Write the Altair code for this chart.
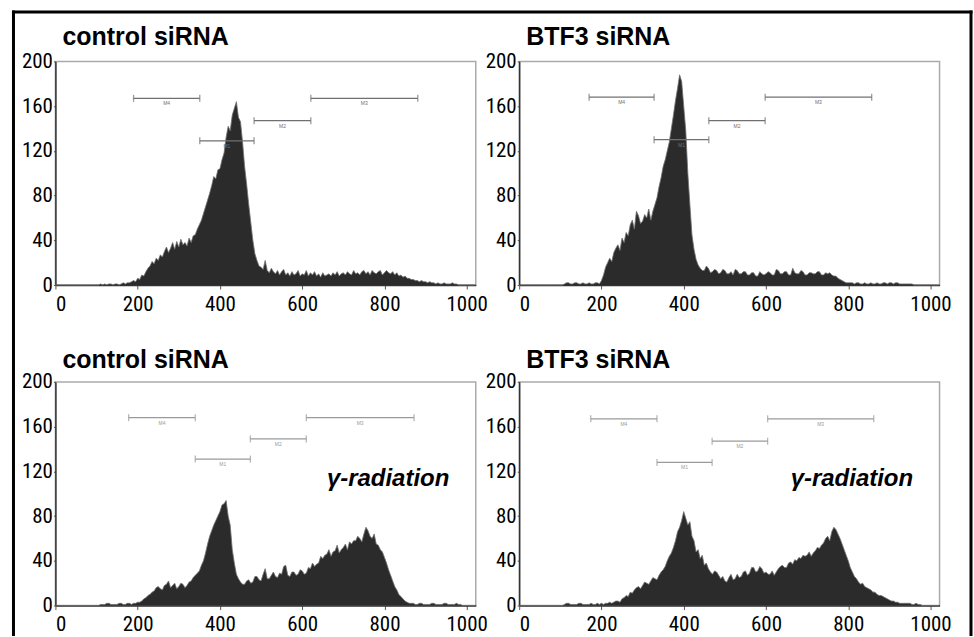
import altair as alt
import pandas as pd

# channel (bin start) of each histogram count, 5-channel bins from 0 to 1020
channels = list(range(0, 1025, 5))

control_siRNA = [
    0, 0, 0, 0, 0, 0, 0, 0, 0, 0, 0, 0, 0, 0, 0, 0, 0, 0, 0, 0,
    0, 0, 1, 0, 1, 0, 1, 1, 0, 1, 1, 0, 1, 2, 1, 2, 2, 3, 4, 3,
    6, 5, 9, 8, 12, 15, 17, 21, 19, 24, 22, 27, 25, 30, 34, 29, 33, 38, 32, 39,
    34, 41, 36, 38, 35, 42, 38, 44, 45, 50, 54, 58, 64, 70, 76, 82, 89, 97, 95, 103,
    104, 112, 118, 132, 142, 138, 152, 158, 164, 150, 146, 128, 106, 90, 72, 56, 40, 28, 22, 17,
    16, 14, 22, 13, 11, 15, 12, 10, 13, 9, 12, 14, 9, 11, 8, 12, 9, 10, 13, 8,
    10, 9, 13, 8, 11, 9, 12, 8, 10, 7, 11, 8, 9, 10, 8, 11, 9, 12, 8, 10,
    11, 9, 12, 10, 9, 13, 10, 11, 9, 12, 13, 10, 12, 9, 13, 11, 10, 12, 13, 9,
    11, 13, 11, 10, 12, 9, 11, 8, 9, 7, 8, 6, 6, 5, 5, 4, 4, 3, 4, 3,
    3, 2, 3, 2, 2, 1, 2, 1, 1, 2, 1, 1, 1, 2, 1, 1, 0, 0, 0, 0,
    0, 0, 0, 0, 0]

btf3_siRNA = [
    0, 0, 0, 0, 0, 0, 0, 0, 0, 0, 0, 0, 0, 0, 0, 0, 0, 0, 0, 0,
    0, 0, 1, 2, 2, 1, 1, 2, 2, 1, 1, 2, 1, 1, 2, 1, 1, 2, 2, 1,
    4, 9, 16, 20, 24, 21, 29, 33, 36, 31, 42, 38, 47, 44, 54, 58, 50, 66, 62, 55,
    57, 63, 60, 68, 58, 66, 72, 78, 88, 96, 106, 112, 120, 128, 140, 152, 165, 176, 188, 182,
    160, 138, 100, 72, 45, 32, 23, 18, 15, 13, 13, 17, 15, 11, 12, 14, 13, 10, 11, 14,
    13, 10, 10, 12, 9, 14, 13, 10, 10, 12, 12, 9, 9, 11, 11, 8, 8, 12, 10, 9,
    10, 12, 11, 9, 9, 14, 13, 10, 10, 12, 12, 9, 9, 15, 11, 10, 10, 13, 12, 9,
    9, 11, 11, 10, 10, 12, 12, 9, 9, 11, 10, 11, 9, 8, 8, 6, 5, 4, 3, 2,
    2, 2, 2, 1, 2, 2, 1, 1, 2, 1, 1, 2, 1, 1, 2, 1, 1, 2, 2, 1,
    2, 2, 1, 2, 2, 1, 1, 1, 1, 1, 1, 1, 0, 0, 0, 0, 0, 0, 0, 0,
    0, 0, 0, 0, 0]

control_siRNA_irr = [
    0, 0, 0, 0, 0, 0, 0, 0, 0, 0, 0, 0, 0, 0, 0, 0, 0, 0, 0, 0,
    0, 0, 1, 1, 1, 2, 2, 1, 1, 1, 1, 2, 2, 1, 1, 2, 2, 1, 2, 2,
    3, 3, 4, 6, 7, 9, 10, 12, 13, 16, 17, 15, 14, 18, 19, 22, 16, 18, 20, 15,
    17, 20, 19, 16, 18, 21, 22, 25, 27, 29, 31, 36, 40, 47, 55, 62, 67, 72, 76, 80,
    84, 90, 91, 94, 80, 72, 50, 38, 28, 24, 21, 19, 19, 22, 23, 20, 21, 26, 26, 23,
    22, 28, 33, 24, 24, 27, 30, 26, 25, 29, 28, 35, 36, 27, 26, 30, 30, 27, 28, 32,
    31, 28, 29, 34, 33, 38, 35, 37, 38, 44, 42, 45, 46, 50, 44, 48, 49, 54, 47, 50,
    52, 55, 50, 57, 55, 58, 58, 62, 60, 57, 64, 70, 67, 62, 60, 64, 55, 54, 50, 48,
    43, 38, 32, 27, 22, 17, 14, 10, 8, 6, 4, 3, 2, 2, 2, 1, 1, 2, 2, 1,
    1, 1, 1, 2, 2, 1, 1, 1, 1, 2, 2, 1, 1, 1, 1, 2, 1, 1, 0, 0,
    0, 0, 0, 0, 0]

btf3_siRNA_irr = [
    0, 0, 0, 0, 0, 0, 0, 0, 0, 0, 0, 0, 0, 0, 0, 0, 0, 0, 0, 0,
    0, 0, 1, 2, 2, 1, 1, 1, 1, 2, 2, 1, 1, 1, 1, 2, 1, 1, 2, 1,
    2, 1, 2, 2, 3, 2, 3, 4, 4, 3, 6, 7, 9, 8, 12, 11, 14, 16, 17, 15,
    18, 21, 20, 19, 22, 25, 24, 23, 27, 30, 32, 35, 40, 44, 47, 52, 58, 66, 70, 76,
    84, 78, 72, 75, 62, 58, 48, 50, 42, 45, 36, 38, 33, 30, 28, 31, 30, 27, 24, 26,
    22, 21, 25, 28, 23, 24, 28, 25, 26, 30, 31, 27, 29, 34, 34, 30, 31, 35, 33, 29,
    30, 28, 28, 31, 27, 30, 33, 35, 36, 34, 34, 38, 39, 37, 41, 40, 43, 42, 45, 44,
    45, 48, 44, 47, 49, 52, 51, 54, 56, 60, 62, 58, 66, 70, 68, 64, 60, 55, 50, 45,
    40, 34, 30, 26, 24, 21, 19, 20, 17, 16, 15, 14, 12, 12, 10, 9, 9, 8, 7, 6,
    5, 4, 4, 3, 3, 2, 2, 2, 2, 2, 2, 1, 1, 2, 1, 1, 0, 0, 0, 0,
    0, 0, 0, 0, 0]

# marker gates
gate_names = ["M4", "M1", "M2", "M3"]
gates_control = {"start": [190, 351, 483, 621], "end": [351, 483, 621, 881], "level": [167, 129, 147, 167]}
gates_btf3 = {"start": [170, 328, 461, 598], "end": [328, 461, 598, 857], "level": [168, 130, 147, 168]}
gates_control_irr = {"start": [178, 340, 474, 610], "end": [340, 474, 610, 872], "level": [168, 131, 149, 168]}
gates_btf3_irr = {"start": [174, 335, 469, 604], "end": [335, 469, 604, 862], "level": [167, 128, 147, 167]}

x_ticks = [0, 200, 400, 600, 800, 1000]
y_ticks = [0, 40, 80, 120, 160, 200]

TITLE_FONT = "Liberation Sans, Arial, sans-serif"
NUM_FONT = "Liberation Sans Narrow, Roboto Condensed, DejaVu Sans Condensed, Liberation Sans, sans-serif"

W, H = 421, 224

XS = alt.Scale(domain=[0, 1022], nice=False, zero=False)
YS = alt.Scale(domain=[0, 200], nice=False)
XA = alt.Axis(values=x_ticks, format="d", title=None, tickSize=4, labelPadding=4)
YA = alt.Axis(values=y_ticks, format="d", title=None, tickSize=2, labelPadding=1)


def X(f):
    return alt.X(f, scale=XS, axis=XA)


def Y(f):
    return alt.Y(f, scale=YS, axis=YA)


def panel(counts, title, gates, gate_color, title_y, irradiated=False, frame=False):
    hist = pd.DataFrame({"channel": channels, "count": counts})
    area = alt.Chart(hist).mark_area(
        color="#2b2b2b", opacity=1, interpolate="linear",
        line={"color": "#707070", "strokeWidth": 0.8},
    ).encode(x=X("channel:Q"), y=Y("count:Q"))
    g = pd.DataFrame({"name": gate_names, **gates})
    g["mid"] = (g["start"] + g["end"]) / 2
    ends = pd.DataFrame({
        "pos": list(gates["start"]) + list(gates["end"]),
        "level": list(gates["level"]) * 2,
    })
    rules = alt.Chart(g).mark_rule(color=gate_color, strokeWidth=1.3).encode(
        x=X("start:Q"), x2="end:Q", y=Y("level:Q"),
    )
    ticks = alt.Chart(ends).mark_tick(orient="vertical", size=7, thickness=1.3, color=gate_color).encode(
        x=X("pos:Q"), y=Y("level:Q"),
    )
    labels = alt.Chart(g).mark_text(fontSize=5, color=gate_color, dy=3, baseline="top").encode(
        x=X("mid:Q"), y=Y("level:Q"), text="name:N",
    )
    ttl = alt.Chart(pd.DataFrame({"t": [title]})).mark_text(
        align="left", baseline="alphabetic", font=TITLE_FONT, fontWeight="bold", fontSize=25, color="black",
    ).encode(x=alt.value(7), y=alt.value(title_y), text="t:N")
    layers = [area, rules, ticks, labels, ttl]
    if irradiated:
        note = alt.Chart(pd.DataFrame({"t": ["γ-radiation"], "x": [660], "y": [107]})).mark_text(
            align="left", baseline="alphabetic", font=TITLE_FONT, fontWeight="bold",
            fontStyle="italic", fontSize=24, color="black",
        ).encode(x=X("x:Q"), y=Y("y:Q"), text="t:N")
        layers.append(note)
    if frame:
        one = pd.DataFrame({"k": [0]})
        top = alt.Chart(one).mark_rule(color="black", strokeWidth=3, strokeCap="square").encode(
            x=alt.value(-42), x2=alt.value(917), y=alt.value(-49.5))
        left = alt.Chart(one).mark_rule(color="black", strokeWidth=3, strokeCap="square").encode(
            x=alt.value(-42), y=alt.value(-49.5), y2=alt.value(574))
        right = alt.Chart(one).mark_rule(color="black", strokeWidth=3, strokeCap="square").encode(
            x=alt.value(917), y=alt.value(-49.5), y2=alt.value(574))
        layers += [top, left, right]
    return alt.layer(*layers).properties(width=W, height=H)


p1 = panel(control_siRNA, "control siRNA", gates_control, "#707070", -16, frame=True)
p2 = panel(btf3_siRNA, "BTF3 siRNA", gates_btf3, "#707070", -16)
p3 = panel(control_siRNA_irr, "control siRNA", gates_control_irr, "#9a9a9a", -14, irradiated=True)
p4 = panel(btf3_siRNA_irr, "BTF3 siRNA", gates_btf3_irr, "#9a9a9a", -14, irradiated=True)

chart = alt.concat(
    p1, p2, p3, p4, columns=2, spacing={"row": 97, "column": 43.5}, bounds="flush",
).properties(
    padding={"left": 10.5, "top": 8, "right": 0, "bottom": 0},
).configure_view(
    stroke="#aaaaaa", strokeWidth=1.5,
).configure_axis(
    labelFont=NUM_FONT, labelFontSize=21, labelColor="black", grid=False,
    domainColor="#333333", domainWidth=1.5, tickColor="#555555",
)

chart.save("out.html", embed_options={"renderer": "svg", "actions": False})
